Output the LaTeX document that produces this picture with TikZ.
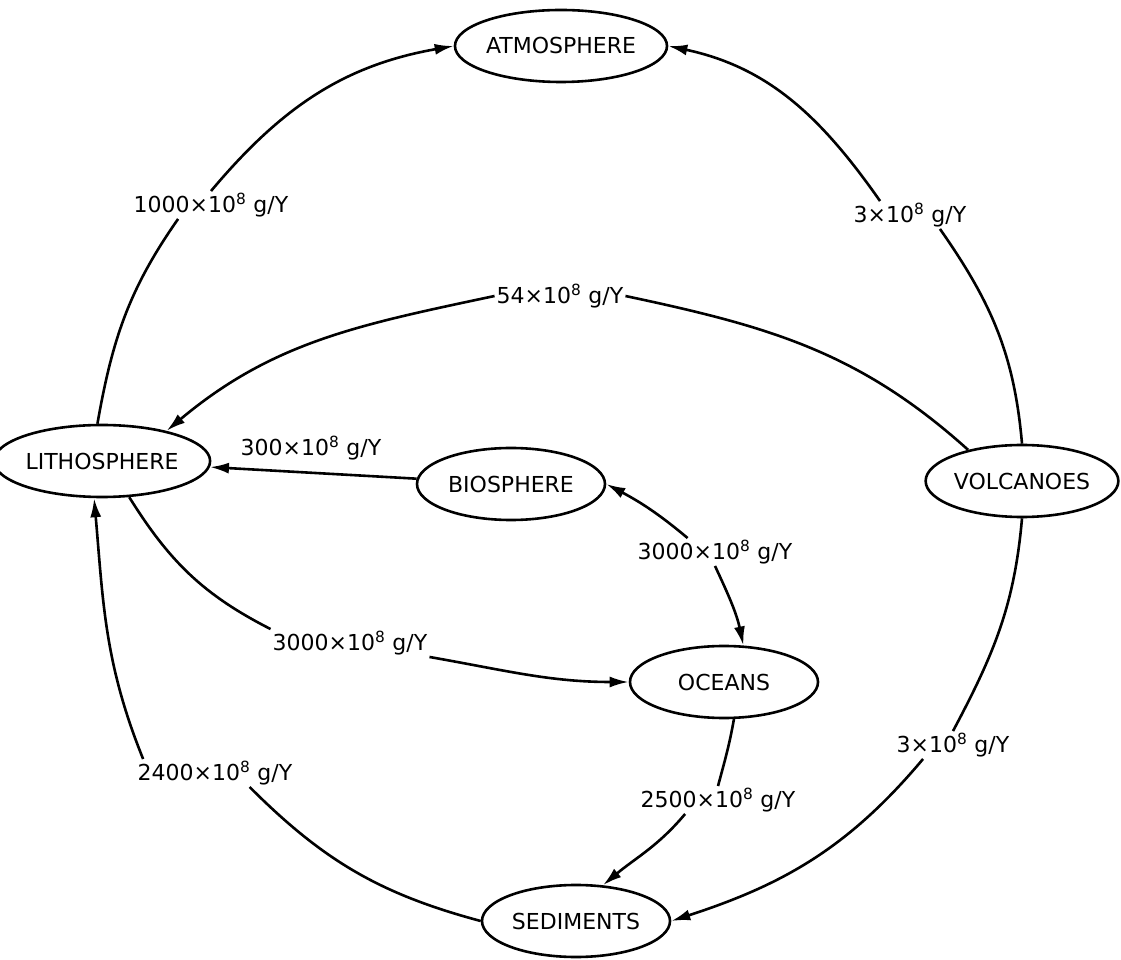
\documentclass[tikz,border=0pt]{standalone}
\usepackage{fontspec}
\setmainfont{DejaVu Sans}
\usetikzlibrary{arrows.meta, shapes.geometric}

\begin{document}
\begin{tikzpicture}[
        x=1pt, y=1pt,
        font=\fontsize{22}{26}\selectfont,
        sphere/.style={ellipse, draw, line width=2.6pt, minimum width=188pt, minimum height=72pt, inner sep=0pt},
        rate/.style={inner sep=2pt},
        link/.style={line width=2.6pt},
        flow/.style={line width=2.6pt, -{Latex[length=19pt, width=11pt]}}
    ]
    \useasboundingbox (0,0) rectangle (1121,959);

    % reservoirs
    \node[sphere] (atmo) at (561,913) {ATMOSPHERE};
    \node[sphere] (lith) at (102,498) {LITHOSPHERE};
    \node[sphere] (bio) at (511,475) {BIOSPHERE};
    \node[sphere] (volc) at (1022,478) {VOLCANOES};
    \node[sphere] (ocean) at (724,277) {OCEANS};
    \node[sphere] (sed) at (576,38) {SEDIMENTS};

    % rates
    \node[rate] (l1000) at (211,754) {1000×10\textsuperscript{8} g/Y};
    \node[rate] (l3top) at (910,744) {3×10\textsuperscript{8} g/Y};
    \node[rate] (l54) at (560,663) {54×10\textsuperscript{8} g/Y};
    \node[rate] (l300) at (311,511) {300×10\textsuperscript{8} g/Y};
    \node[rate] (l3000a) at (715,407) {3000×10\textsuperscript{8} g/Y};
    \node[rate] (l3000b) at (350,316) {3000×10\textsuperscript{8} g/Y};
    \node[rate] (l3bot) at (953,214) {3×10\textsuperscript{8} g/Y};
    \node[rate] (l2400) at (215,186) {2400×10\textsuperscript{8} g/Y};
    \node[rate] (l2500) at (718,159) {2500×10\textsuperscript{8} g/Y};

    % fluxes
    \draw[link] (lith.97) to[out=80, in=235] (l1000.203);
    \draw[flow] (l1000.90) to[out=50, in=190] (atmo.west);
    \draw[link] (volc.north) to[out=95, in=-55] (l3top.-25);
    \draw[flow] (l3top.155) to[out=125, in=-12] (atmo.east);
    \draw[link] (volc.150) to[out=138, in=-12] (l54.east);
    \draw[flow] (l54.west) to[out=192, in=40] (lith.25);
    \draw[flow] (bio) -- (lith);
    \draw[flow] (l3000a.153) to[out=140, in=-28] (bio.east);
    \draw[flow] (l3000a.south) to[out=-65, in=102] (ocean.62);
    \draw[link] (lith.-53) to[out=-58, in=153] (l3000b.north west);
    \draw[flow] (l3000b.south east) to[out=-10, in=180] (ocean.west);
    \draw[link] (sed.west) to[out=165, in=-45] (l2400.-22);
    \draw[flow] (l2400.169) to[out=112, in=-85] (lith.-102);
    \draw[link] (volc.south) to[out=-95, in=62] (l3bot.north);
    \draw[flow] (l3bot.205) to[out=-130, in=18] (sed.east);
    \draw[link] (ocean.-75) to[out=-100, in=75] (l2500.north);
    \draw[flow] (l2500.203) to[out=-130, in=40] (sed.53);
\end{tikzpicture}
\end{document}
